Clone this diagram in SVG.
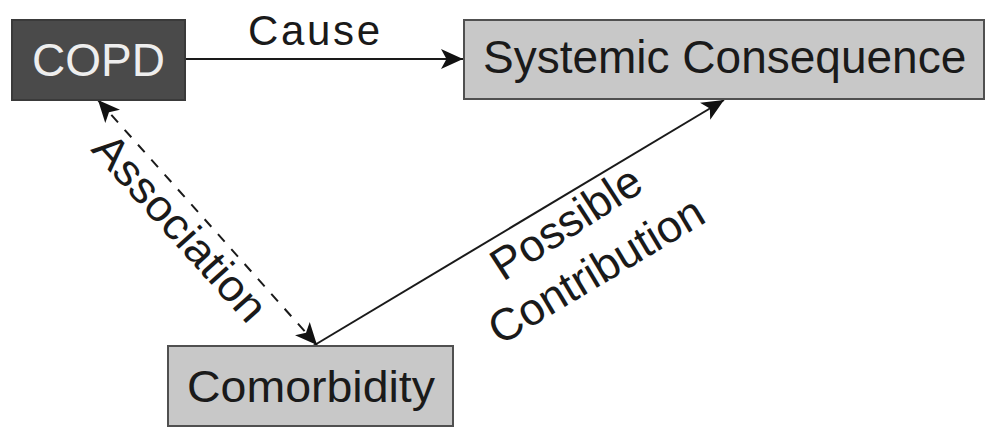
<svg xmlns="http://www.w3.org/2000/svg" width="985" height="428" viewBox="0 0 985 428">
<style>
.t{font-family:"Liberation Sans",Arial,sans-serif;fill:#1a1a1a}
.box{fill:#c8c8c8;stroke:#505050;stroke-width:2}
.ln{stroke:#1a1a1a;stroke-width:2;fill:none}
</style>
<defs>
<marker id="ahb" viewBox="0 0 10 10" refX="10" refY="5" markerWidth="22" markerHeight="22" markerUnits="userSpaceOnUse" orient="auto-start-reverse">
<path d="M0,0.5 L10,5 L0,9.5 L2.5,5 Z" fill="#111"/>
</marker>
</defs>
<rect width="985" height="428" fill="#fff"/>
<g id="connectors">
<line class="ln" x1="185" y1="59" x2="463" y2="59" marker-end="url(#ahb)"/>
<line class="ln" x1="313" y1="346" x2="724" y2="100" marker-end="url(#ahb)"/>
<line class="ln" x1="98" y1="100" x2="317" y2="345" stroke-dasharray="10,10" marker-start="url(#ahb)" marker-end="url(#ahb)"/>
<text class="t" x="248" y="45" font-size="42" textLength="132" lengthAdjust="spacing">Cause</text>
<text class="t" x="90" y="150" font-size="44" transform="rotate(48 90 150)" textLength="236" lengthAdjust="spacingAndGlyphs">Association</text>
<text class="t" x="503" y="282" font-size="45" transform="rotate(-33 503 282)">Possible</text>
<text class="t" x="500" y="346" font-size="45" transform="rotate(-31 500 346)">Contribution</text>
</g>
<g id="copd">
<rect x="12" y="20" width="173" height="80" fill="#4a4a4a" stroke="#3a3a3a" stroke-width="2"/>
<text class="t" x="32" y="76" font-size="46" style="fill:#eeeeee">COPD</text>
</g>
<g id="systemic">
<rect class="box" x="464" y="20" width="520" height="79"/>
<text class="t" x="483" y="73" font-size="46">Systemic Consequence</text>
</g>
<g id="comorbidity">
<rect class="box" x="168" y="346" width="285" height="80"/>
<text class="t" x="187" y="402" font-size="45" textLength="248" lengthAdjust="spacingAndGlyphs">Comorbidity</text>
</g>
</svg>
